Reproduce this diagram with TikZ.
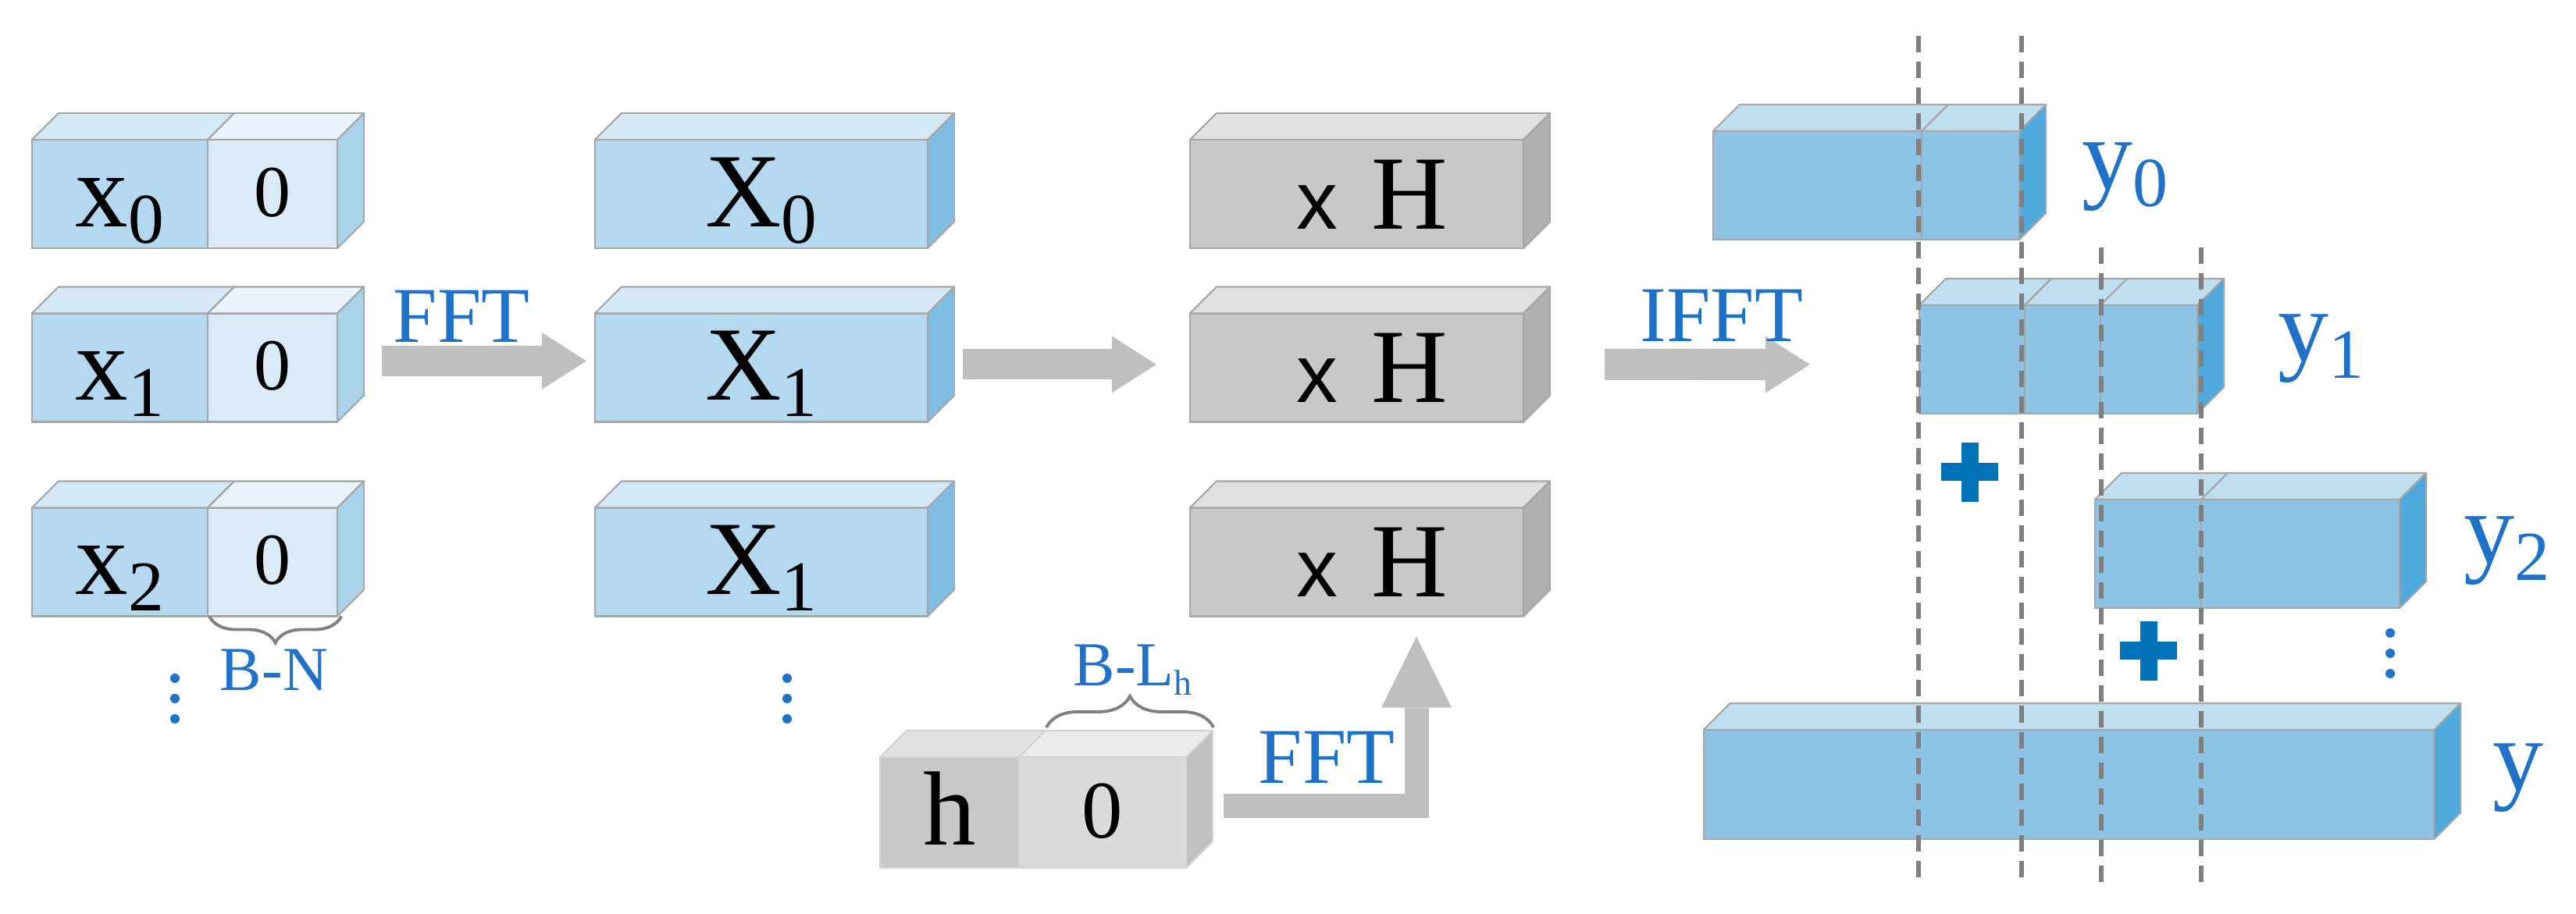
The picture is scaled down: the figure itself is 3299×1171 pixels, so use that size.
\documentclass[tikz,border=0pt]{standalone}
\usepackage{fontspec}
\setmainfont{Liberation Serif}
\newfontfamily\sansx{Liberation Sans}
\usepackage{tikz}
\usetikzlibrary{positioning, arrows.meta, calc, decorations.pathreplacing}
\usepackage{xcolor}

\definecolor{xfront}{HTML}{B4D8EF}
\definecolor{xtop}{HTML}{D5E8F5}
\definecolor{xside}{HTML}{A9D3EC}
\definecolor{zfront}{HTML}{DAEBF7}
\definecolor{ztop}{HTML}{EAF3FB}
\definecolor{Xside}{HTML}{7FBDE3}
\definecolor{hfront}{HTML}{C8C8C8}
\definecolor{htop}{HTML}{E0E0E0}
\definecolor{hside}{HTML}{B0B0B0}
\definecolor{hzfront}{HTML}{DADADA}
\definecolor{hztop}{HTML}{EBEBEB}
\definecolor{hzside}{HTML}{C0C0C0}
\definecolor{hedge}{HTML}{D4D4D4}
\definecolor{yfront}{HTML}{8DC3E5}
\definecolor{ytop}{HTML}{BFDEF0}
\definecolor{yside}{HTML}{4FA9DC}
\definecolor{labelblue}{HTML}{2072C8}
\definecolor{plusblue}{HTML}{0072B8}
\definecolor{arrowgrey}{HTML}{BFBFBF}
\definecolor{edgegrey}{HTML}{A6A6A6}
\definecolor{bracegrey}{HTML}{808080}
\definecolor{dashgrey}{HTML}{7F7F7F}

% lowered index in a smaller size
\newcommand{\lowsub}[2][26]{\raisebox{-6pt}{\fontsize{#1}{#1}\selectfont #2}}
% top and side face of a block, from its front node
\newcommand{\slabfaces}[4][edgegrey]{%
  \filldraw[draw=#1, line width=0.6pt, line join=round, fill=#3] (#2.north west) -- ++(34,-34) -- ([shift={(34,-34)}]#2.north east) -- (#2.north east) -- cycle;
  \filldraw[draw=#1, line width=0.6pt, line join=round, fill=#4] (#2.north east) -- ++(34,-34) -- ([shift={(34,-34)}]#2.south east) -- (#2.south east) -- cycle;
}
\newcommand{\plusmark}[2]{%
  \fill[plusblue] (#1-36.5,#2-11.5) rectangle (#1+36.5,#2+11.5);
  \fill[plusblue] (#1-11,#2-38) rectangle (#1+11,#2+38);
}

\tikzset{
    face/.style={
        rectangle, draw=edgegrey, line width=0.6pt,
        inner sep=0pt, outer sep=0pt,
        minimum height=1.39cm,
        text height=0.83cm, text depth=0pt,
        font=\fontsize{38.4}{40}\selectfont
    },
    sigpart/.style={face, fill=xfront, minimum width=2.25cm},
    padpart/.style={
        face, fill=zfront, minimum width=1.66cm,
        text height=0.57cm, font=\fontsize{26.7}{28}\selectfont
    },
    specpart/.style={face, fill=xfront, minimum width=4.26cm},
    prodpart/.style={face, fill=hfront, minimum width=4.27cm, text height=0.89cm},
    ypart/.style={face, fill=yfront},
    fatarrow/.style={
        draw=arrowgrey, line width=0.39cm,
        -{Triangle[length=0.57cm, width=0.73cm, line width=0pt]}
    }
}

\begin{document}
\begin{tikzpicture}[
    x=0.01cm, y=-0.01cm,
    node distance=0pt,
    optext/.style={text=labelblue, font=\fontsize{28.8}{30}\selectfont, inner sep=0pt, anchor=base west},
    sizetext/.style={text=labelblue, font=\fontsize{22.8}{24}\selectfont, inner sep=0pt},
    outlabel/.style={text=labelblue, font=\fontsize{37}{38}\selectfont, inner sep=0pt, anchor=base west},
    sizebrace/.style={draw=bracegrey, line width=1.1pt, decorate},
    cut/.style={draw=dashgrey, line width=1.7pt, dash pattern=on 0.21cm off 0.12cm}
]
\useasboundingbox (0,0) rectangle (3299,1171);

% zero padded input blocks
\foreach \i/\cy in {0/248.5, 1/471, 2/720}{
    \node[sigpart] (sig\i) at (153.5,\cy) {x\lowsub{\i}};
    \slabfaces{sig\i}{xtop}{xside}
    \node[padpart, right=of sig\i] (pad\i) {0};
    \slabfaces{pad\i}{ztop}{xside}
}
\foreach \d in {0,26,52} \fill[labelblue] (224,869+\d) circle[radius=0.06cm];

% spectra
\foreach \i/\cy/\k in {0/248.5/0, 1/471/1, 2/720/1}{
    \node[specpart] (spec\i) at (975,\cy) {X\lowsub{\k}};
    \slabfaces{spec\i}{xtop}{Xside}
}
\foreach \d in {0,26,52} \fill[labelblue] (1008,869+\d) circle[radius=0.06cm];

% products
\foreach \i/\cy in {0/248.5, 1/471, 2/720}{
    \node[prodpart] (prod\i) at (1737.5,\cy) {\hspace{0.4cm}{\sansx\fontsize{30}{30}\selectfont x}\hspace{0.43cm}H};
    \slabfaces{prod\i}{htop}{hside}
}

% filter block
\node[face, draw=hedge, fill=hfront, minimum width=1.78cm, minimum height=1.42cm, text height=0.82cm] (hsig) at (1216,1041) {h};
\slabfaces[hedge]{hsig}{htop}{hzside}
\node[face, draw=hedge, fill=hzfront, minimum width=2.14cm, minimum height=1.42cm,
      text height=0.64cm, font=\fontsize{29.8}{30}\selectfont, right=of hsig] (hpad) {0};
\slabfaces[hedge]{hpad}{hztop}{hzside}

% output blocks
\node[ypart, minimum width=2.67cm] (y0a) at (2327.5,237.5) {};
\slabfaces{y0a}{ytop}{yside}
\node[ypart, minimum width=1.25cm, right=of y0a] (y0b) {};
\slabfaces{y0b}{ytop}{yside}

\node[ypart, minimum width=1.35cm] (y1a) at (2525.5,460.5) {};
\slabfaces{y1a}{ytop}{yside}
\node[ypart, minimum width=0.97cm, right=of y1a] (y1b) {};
\slabfaces{y1b}{ytop}{yside}
\node[ypart, minimum width=1.24cm, right=of y1b] (y1c) {};
\slabfaces{y1c}{ytop}{yside}

\node[ypart, minimum width=1.36cm] (y2a) at (2751,709.5) {};
\slabfaces{y2a}{ytop}{yside}
\node[ypart, minimum width=2.54cm, right=of y2a] (y2b) {};
\slabfaces{y2b}{ytop}{yside}

\node[ypart, minimum width=9.35cm, minimum height=1.40cm] (ysum) at (2649.5,1005) {};
\slabfaces{ysum}{ytop}{yside}

\node[outlabel] (y0lbl) at (2666,243) {y\lowsub[25.6]{0}};
\node[outlabel] (y1lbl) at (2917,463) {y\lowsub[25.6]{1}};
\node[outlabel] (y2lbl) at (3155,722) {y\lowsub[25.6]{2}};
\node[outlabel] (ylbl) at (3192,1013) {y};
\foreach \d in {0,26,52} \fill[labelblue] (3061,811+\d) circle[radius=0.06cm];

\plusmark{2522.5}{605}
\plusmark{2751.5}{834}

% overlap cuts
\foreach \cx/\cy in {2457/46, 2589/46, 2691/317, 2819/317}
    \draw[cut] (\cx,\cy) -- (\cx,1134);

% arrows
\draw[fatarrow] ([xshift=0.57cm, yshift=0.085cm]pad1.east) -- ([xshift=-0.11cm, yshift=0.085cm]spec1.west);
\draw[fatarrow] ([xshift=0.45cm, yshift=0.04cm]spec1.east) -- ([xshift=-0.43cm, yshift=0.04cm]prod1.west);
\draw[fatarrow, line width=0.40cm] ([xshift=1.04cm, yshift=0.04cm]prod1.east) -- ([xshift=-1.40cm, yshift=-0.065cm]y1a.west);
\draw[fatarrow, line width=0.31cm, -{Triangle[length=0.91cm, width=0.90cm, line width=0pt]}]
    ([xshift=0.48cm, yshift=0.085cm]hpad.east) -| ([xshift=0.765cm, yshift=-0.26cm]prod2.south);

\node[optext] (fftA) at (503,439) {FFT};
\node[optext] (ifft) at (2100,438) {IFFT};
\node[optext] (fftB) at (1611,1004) {FFT};

% sizes of the zero padding
\draw[sizebrace, decoration={brace, mirror, amplitude=0.34cm}]
    ([xshift=0.02cm]pad2.south west) -- ([xshift=0.05cm]pad2.south east);
\node[sizetext, anchor=base] (bn) at (351,885) {B-N};
\draw[sizebrace, decoration={brace, amplitude=0.4cm}]
    ([shift={(35,-38)}]hpad.north west) -- ([shift={(35,-38)}]hpad.north east);
\node[sizetext, anchor=base west] (blh) at (1374,879) {B-L\raisebox{-3.4pt}{\fontsize{13}{13}\selectfont h}};

\end{tikzpicture}
\end{document}
